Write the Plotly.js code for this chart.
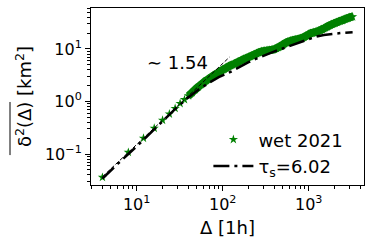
<!DOCTYPE html>
<html>
<head>
<meta charset="utf-8">
<script src="https://cdn.plot.ly/plotly-3.0.1.min.js"></script>
<style>html,body{margin:0;padding:0;background:#fff;}#chart{width:373px;height:245px;}</style>
</head>
<body>
<div id="chart"></div>
<script>
// lag Δ in hours (wet season 2021)
const lagWet = [4, 8, 12, 16, 20, 24, 28, 32, 36, 40, 44, 48, 52, 56, 60, 64, 68, 72, 76,
  80, 84, 88, 92, 96, 100, 104, 108, 112, 116, 120, 124, 128, 136, 140, 148, 152, 160, 168, 176,
  184, 192, 200, 208, 216, 228, 236, 248, 260, 272, 284, 296, 308, 324, 336, 352, 368, 384, 400,
  420, 440, 456, 476, 500, 520, 544, 568, 592, 620, 648, 676, 708, 740, 772, 808, 844, 880, 920,
  960, 1004, 1048, 1096, 1144, 1196, 1248, 1304, 1364, 1424, 1488, 1556, 1624, 1700, 1776, 1856,
  1940, 2024, 2116, 2212, 2312, 2416, 2524, 2636, 2756, 2880, 3008, 3144, 3240];
// mean squared displacement [km^2]
const msdWet = [0.036, 0.108, 0.20, 0.31, 0.44, 0.58, 0.74, 0.92, 1.09, 1.28, 1.48, 1.69, 1.9, 2.1, 2.3, 2.5, 2.65, 2.85, 3.0,
  3.2, 3.35, 3.5, 3.68, 3.85, 4.0, 4.15, 4.3, 4.45, 4.6, 4.75, 4.87, 4.98, 5.2, 5.3, 5.57, 5.68, 5.92, 6.15, 6.38,
  6.6, 6.8, 7.0, 7.2, 7.4, 7.7, 7.9, 8.2, 8.5, 8.75, 8.95, 9.05, 9.15, 9.3, 9.4, 9.5, 9.6, 9.75, 9.9,
  10.3, 10.7, 11.0, 11.5, 12.0, 12.6, 13.1, 13.6, 13.9, 14.3, 14.6, 14.9, 15.1, 15.3, 15.55, 15.9, 16.3, 16.8, 17.5,
  18.3, 19.1, 19.7, 20.2, 20.6, 21.0, 21.5, 22.1, 22.8, 23.5, 24.4, 25.3, 26.3, 27.3, 28.4, 29.4,
  30.3, 31.2, 32.1, 33.1, 34.0, 34.9, 35.8, 36.8, 37.9, 38.9, 39.9, 40.7, 41.2];
// model fit, tau_s = 6.02
const lagModel = [4, 6, 10, 15, 20, 30, 40, 52, 70, 90, 127, 160, 200, 250, 310, 400, 500, 661, 800, 1000, 1200, 1500, 2000, 2500, 3240];
const msdModel = [0.034, 0.065, 0.14, 0.27, 0.42, 0.8, 1.2, 1.67, 2.3, 2.9, 3.75, 4.65, 5.6, 6.6, 7.7, 9.0, 10.2, 12.0, 13.7, 15.7, 17.1, 18.5, 19.7, 20.3, 20.8];
// power-law guide ~ Δ^1.54
const lagSlope = [4, 120];
const msdSlope = [0.037, 7.0];
const slopeLabel = '∼ 1.54';
const seriesName = 'wet 2021';
const modelName = 'τ<sub>s</sub>=6.02';

const xTickVals = [10, 100, 1000];
const xTickText = ['10<sup>1</sup>', '10<sup>2</sup>', '10<sup>3</sup>'];
const yTickVals = [0.1, 1, 10];
const yTickText = ['10<sup>−1</sup>', '10<sup>0</sup>', '10<sup>1</sup>'];

function minorVals(lo, hi) {
  const v = [];
  for (let d = -3; d <= 4; d++) for (let m = 2; m <= 9; m++) {
    const t = m * Math.pow(10, d);
    if (t >= lo && t <= hi) v.push(+t.toPrecision(3));
  }
  return v;
}

const font = {family: 'DejaVu Sans, sans-serif', color: '#000'};
const green = '#008000';

// dense part of the series (overlapping markers form a continuous band)
const denseIdx = lagWet.map((d, i) => i).filter(i => lagWet[i] >= 40);
const denseLag = denseIdx.map(i => lagWet[i]);
const denseMsd = denseIdx.map(i => msdWet[i]);

const traces = [
  {x: denseLag, y: denseMsd, mode: 'lines', type: 'scatter', showlegend: false, hoverinfo: 'skip',
   line: {color: green, width: 8, shape: 'spline', smoothing: 0.6}},
  {x: lagWet, y: msdWet, mode: 'markers', type: 'scatter', name: seriesName,
   marker: {symbol: 'star', size: 7, color: green, line: {width: 0}}},
  {x: lagModel, y: msdModel, mode: 'lines', type: 'scatter', name: modelName,
   line: {color: '#000', width: 2.5, dash: '16px,5px,3px,5px'}},
  {x: lagSlope, y: msdSlope, mode: 'lines', type: 'scatter', showlegend: false,
   line: {color: '#000', width: 1, dash: '4px,2px'}}
];

const axisCommon = {
  type: 'log', showgrid: false, zeroline: false,
  showline: true, mirror: true, linecolor: '#000', linewidth: 1,
  ticks: 'outside', ticklen: 5, tickwidth: 1, tickcolor: '#000',
  tickmode: 'array', tickfont: Object.assign({size: 16}, font)
};

const layout = {
  width: 373, height: 245,
  margin: {l: 91, r: 9, t: 8, b: 60},
  paper_bgcolor: '#fff', plot_bgcolor: '#fff',
  font: font,
  xaxis: Object.assign({}, axisCommon, {
    range: [0.469, 3.643], tickvals: xTickVals, ticktext: xTickText,
    minor: {tickmode: 'array', tickvals: minorVals(2.9, 4400), ticks: 'outside', ticklen: 3, tickcolor: '#000', showgrid: false},
    title: {text: 'Δ [1h]', font: Object.assign({size: 18}, font), standoff: 8}
  }),
  yaxis: Object.assign({}, axisCommon, {
    range: [-1.589, 1.78], tickvals: yTickVals, ticktext: yTickText,
    minor: {tickmode: 'array', tickvals: minorVals(0.025, 61), ticks: 'outside', ticklen: 3, tickcolor: '#000', showgrid: false},
    title: {text: 'δ<sup>2</sup>(Δ) [km<sup>2</sup>]', font: Object.assign({size: 18}, font), standoff: 8}
  }),
  legend: {x: 0.43, y: 0.36, xanchor: 'left', yanchor: 'top', bgcolor: 'rgba(0,0,0,0)',
           font: Object.assign({size: 18}, font), itemwidth: 40, traceorder: 'normal'},
  annotations: [
    {x: 1.469, y: 0.737, xref: 'x', yref: 'y', text: slopeLabel, showarrow: false,
     font: Object.assign({size: 18}, font), xanchor: 'center', yanchor: 'middle'}
  ],
  shapes: [
    {type: 'line', xref: 'paper', yref: 'paper', x0: -0.2967, x1: -0.2967, y0: 0.169, y1: 0.469,
     line: {color: '#000', width: 1}}
  ],
  showlegend: true
};

Plotly.newPlot('chart', traces, layout, {displayModeBar: false, staticPlot: true});
</script>
</body>
</html>
